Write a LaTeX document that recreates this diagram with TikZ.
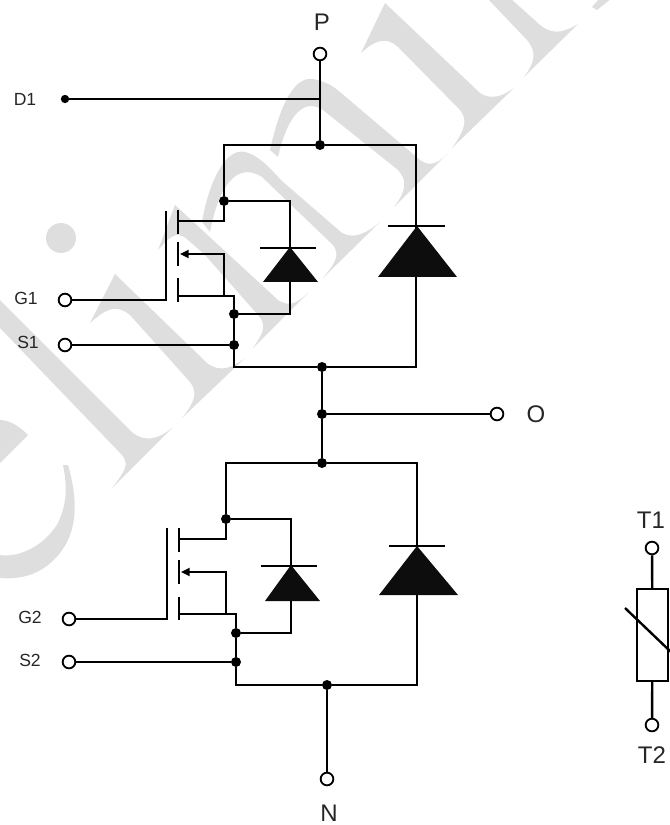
\documentclass[tikz,border=0pt]{standalone}
\usepackage{fontspec}
\setmainfont{Liberation Sans}
\usepackage{xcolor}
\usetikzlibrary{arrows.meta}
\definecolor{wmgrey}{HTML}{DEDEDE}
\tikzset{
	wire/.style={line width=0.72mm},
	thin wire/.style={line width=0.62mm},
	pin/.style={circle,draw,fill=white,line width=0.55mm,minimum size=0.38cm,inner sep=0pt},
	dot/.style={circle,fill=black,minimum size=0.3cm,inner sep=0pt},
	lbl/.style={font=\fontsize{15}{17}\selectfont,text=black!85,inner sep=0pt},
	biglbl/.style={font=\fontsize{20.5}{22}\selectfont,text=black!85,inner sep=0pt}
}

\begin{document}
\begin{tikzpicture}[x=0.03cm,y=-0.03cm]
			\useasboundingbox (0,0) rectangle (669,825);
			
			\fill[wmgrey] (61,238) circle (15);
			\fill[wmgrey] (361,53) -- (385,3) -- (480,93) .. controls (490,100) and (503,97) .. (515,87) -- (452,148) .. controls (465,130) and (468,120) .. (460,110) -- (398,47) .. controls (385,35) and (373,42) .. (361,53) -- cycle;
			\fill[wmgrey] (487,-2) -- (527,40) .. controls (537,52) and (535,62) .. (524,77) -- (578,24) .. controls (560,35) and (550,33) .. (540,25) -- (510,-2) -- cycle;
			\fill[wmgrey] (592,7) -- (600,-2) -- (612,-2) -- (597,10) -- cycle;
			\fill[wmgrey] (270,150) .. controls (280,105) and (295,72) .. (317,80) .. controls (325,82) and (332,85) .. (340,92) -- (420,160) .. controls (430,168) and (440,162) .. (448,153) -- (394,207) .. controls (407,190) and (407,180) .. (398,170) -- (323,110) .. controls (300,95) and (285,125) .. (278,157) -- cycle;
			\fill[wmgrey] (202,222) .. controls (208,185) and (225,147) .. (245,152) .. controls (258,155) and (268,166) .. (282,181) -- (342,233) .. controls (355,240) and (368,232) .. (380,222) -- (323,278) .. controls (336,262) and (340,255) .. (333,245) -- (262,177) .. controls (235,160) and (218,190) .. (210,232) -- cycle;
			\fill[wmgrey] (158,250) -- (175,205) -- (278,300) .. controls (290,308) and (298,302) .. (308,293) -- (253,348) .. controls (264,332) and (267,325) .. (258,315) -- (205,255) -- (188,240) .. controls (175,228) and (168,240) .. (158,250) -- cycle;
			\fill[wmgrey] (90,323) -- (115,274) -- (207,363) .. controls (220,373) and (232,368) .. (245,358) -- (182,418) .. controls (195,402) and (198,392) .. (190,382) -- (130,315) .. controls (115,303) and (105,310) .. (90,323) -- cycle;
			\fill[wmgrey] (0,300) -- (133,433) .. controls (145,442) and (158,440) .. (173,427) -- (112,488) .. controls (124,472) and (130,465) .. (122,455) -- (0,328) -- cycle;
			\fill[wmgrey] (0,420) .. controls (10,420) and (20,427) .. (28,435) -- (0,463) -- cycle;
			\fill[wmgrey] (63,465) -- (68,465) .. controls (78,500) and (78,530) .. (60,553) .. controls (45,572) and (25,580) .. (0,578) -- (0,555) .. controls (20,558) and (45,545) .. (58,523) .. controls (66,505) and (68,490) .. (63,465) -- cycle;
			
			\node[biglbl] (Plbl) at (322,22) {P};
			\node[biglbl] (Olbl) at (536,414) {O};
			\node[biglbl] (Nlbl) at (329,813) {N};
			\node[biglbl] (T1lbl) at (651,520) {T1};
			\node[biglbl] (T2lbl) at (652,755) {T2};
			\node[lbl] (D1lbl) at (25,99) {D1};
			\node[lbl] (G1lbl) at (26,298) {G1};
			\node[lbl] (S1lbl) at (28,342) {S1};
			\node[lbl] (G2lbl) at (30,617) {G2};
			\node[lbl] (S2lbl) at (30,660) {S2};
			
			\node[pin] (P) at (320,54) {};
			\node[pin] (G1) at (65,300) {};
			\node[pin] (S1) at (65,345) {};
			\node[pin] (O) at (497,414) {};
			\node[pin] (G2) at (69,619) {};
			\node[pin] (S2) at (69,662) {};
			\node[pin] (N) at (327,779) {};
			\node[pin] (T1) at (652,548) {};
			\node[pin] (T2) at (652,725) {};
			
			\node[dot,minimum size=0.25cm] (D1) at (65,99) {};
			\node[dot] (top1) at (320,145) {};
			\node[dot] (drn1) at (224,201) {};
			\node[dot] (src1) at (234,314) {};
			\node[dot] (sns1) at (234,345) {};
			\node[dot] (bot1) at (322,367) {};
			\node[dot] (out) at (322,414) {};
			\node[dot] (top2) at (322,463) {};
			\node[dot] (drn2) at (226,519) {};
			\node[dot] (src2) at (236,633) {};
			\node[dot] (sns2) at (236,662) {};
			\node[dot] (bot2) at (327,685) {};
			
			\coordinate (D1j) at (320,99);
			\draw[wire] (P) -- (top1);
			\draw[wire] (D1) -- (D1j);
			\draw[wire] (bot1) -- (out);
			\draw[wire] (out) -- (top2);
			\draw[wire] (out) -- (O);
			\draw[wire] (bot2) -- (N);
			
			\coordinate (tr1) at (416,145);
			\coordinate (br1) at (416,367);
			\coordinate (bl1) at (234,367);
			\coordinate (cs1) at (234,296);
			\draw[wire] (drn1) |- (top1);
			\draw[wire] (top1) -- (tr1) -- (br1) -- (bot1);
			\draw[wire] (bot1) -- (bl1) -- (sns1);
			\draw[wire] (sns1) -- (src1);
			\draw[wire] (src1) -- (cs1) -- (178,296);
			\draw[wire] (S1) -- (sns1);
			\draw[wire] (G1) -| (166,211);
			\draw[wire] (178,210) -- (178,234);
			\draw[wire] (178,242) -- (178,266);
			\draw[wire] (178,278) -- (178,302);
			\draw[wire] (drn1) |- (178,221);
			\draw[thin wire,-{Triangle[length=2.6mm,width=2.4mm]}] (224,296) |- (180,254);
			\draw[thin wire] (drn1) -| (290,248);
			\draw[thin wire] (src1) -| (290,281);
			\draw[wire] (260,248) -- (316,248);
			\fill[black!95] (290,247) -- (318,282) -- (263,282) -- cycle;
			\draw[wire] (388,226) -- (445,226);
			\fill[black!95] (417,226) -- (457,277) -- (378,277) -- cycle;
			
			\coordinate (tr2) at (417,463);
			\coordinate (br2) at (417,685);
			\coordinate (bl2) at (236,685);
			\coordinate (cs2) at (236,614);
			\draw[wire] (drn2) |- (top2);
			\draw[wire] (top2) -- (tr2) -- (br2) -- (bot2);
			\draw[wire] (bot2) -- (bl2) -- (sns2);
			\draw[wire] (sns2) -- (src2);
			\draw[wire] (src2) -- (cs2) -- (179,614);
			\draw[wire] (S2) -- (sns2);
			\draw[wire] (G2) -| (167,528);
			\draw[wire] (179,528) -- (179,552);
			\draw[wire] (179,560) -- (179,584);
			\draw[wire] (179,597) -- (179,620);
			\draw[wire] (drn2) |- (179,539);
			\draw[thin wire,-{Triangle[length=2.6mm,width=2.4mm]}] (226,614) |- (181,572);
			\draw[thin wire] (drn2) -| (291,566);
			\draw[thin wire] (src2) -| (291,600);
			\draw[wire] (261,566) -- (317,566);
			\fill[black!95] (291,565) -- (320,601) -- (265,601) -- cycle;
			\draw[wire] (389,546) -- (445,546);
			\fill[black!95] (417,546) -- (458,595) -- (379,595) -- cycle;
			
			\node[draw,line width=0.72mm,minimum width=0.93cm,minimum height=2.76cm,inner sep=0pt] (RT) at (652.5,635) {};
			\draw[wire] (T1) -- (RT);
			\draw[wire] (T2) -- (RT);
			\draw[wire] (625,608) -- (671,652);
			\end{tikzpicture}
\end{document}
